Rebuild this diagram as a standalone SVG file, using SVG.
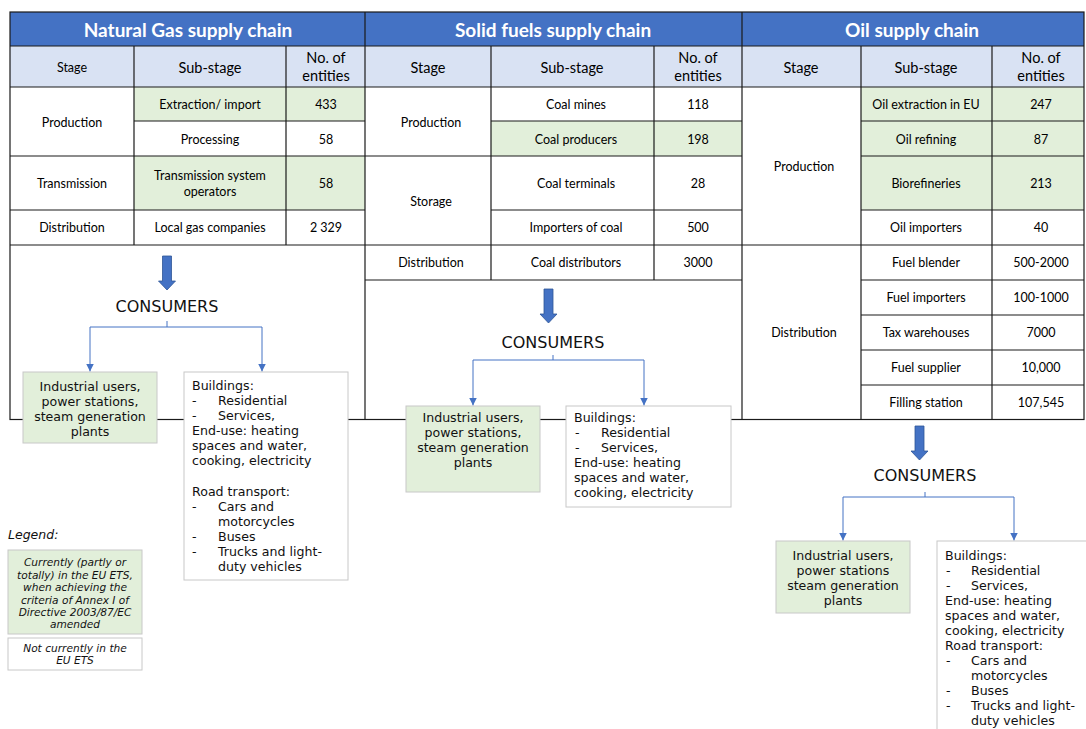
<svg xmlns="http://www.w3.org/2000/svg" width="1086" height="729" viewBox="0 0 1086 729">
<style>
.hdr{fill:#4472C4}
.sub{fill:#D9E2F3}
.grn{fill:#E2EFDA}
.wht{fill:#FFFFFF}
.grid{stroke:#1a1a1a;stroke-width:1.2;fill:none}
.ttl{font-family:Lato,"Liberation Sans",sans-serif;font-weight:bold;font-size:19px;fill:#FFFFFF;text-anchor:middle}
.th{font-family:Lato,"Liberation Sans",sans-serif;font-size:14.5px;fill:#000;text-anchor:middle}
.ths{font-family:Lato,"Liberation Sans",sans-serif;font-size:12.5px;fill:#000;text-anchor:middle}
.td{font-family:Lato,"Liberation Sans",sans-serif;font-size:12.5px;fill:#000;text-anchor:middle}
.box{stroke:#C8C8C8;stroke-width:1}
.cons{font-family:"DejaVu Sans",Verdana,sans-serif;font-size:16px;fill:#111;text-anchor:middle}
.bt{font-family:"DejaVu Sans",Verdana,sans-serif;font-size:12.6px;fill:#111}
.btc{font-family:"DejaVu Sans",Verdana,sans-serif;font-size:12.6px;fill:#111;text-anchor:middle}
.leg{font-family:"DejaVu Sans",Verdana,sans-serif;font-size:10.6px;font-style:italic;fill:#111;text-anchor:middle}
.legt{font-family:"DejaVu Sans",Verdana,sans-serif;font-size:12.5px;font-style:italic;fill:#111}
.conn{stroke:#4472C4;stroke-width:1;fill:none}
.blk{fill:#4472C4;stroke:#2F5597;stroke-width:0.8}
</style>
<defs>
<marker id="ah" viewBox="0 0 10 10" refX="10" refY="5" markerWidth="8" markerHeight="8" markerUnits="userSpaceOnUse" orient="auto">
<path d="M0,0 L10,5 L0,10 z" fill="#4472C4"/>
</marker>
</defs>
<rect width="1086" height="729" fill="#FFFFFF"/>

<g id="fills">
<rect class="hdr" x="10" y="12" width="1074" height="34"/>
<rect class="sub" x="10" y="46" width="1074" height="41"/>
<rect class="grn" x="134" y="87" width="231" height="34"/>
<rect class="grn" x="134" y="156" width="231" height="54"/>
<rect class="grn" x="491" y="121" width="251" height="35"/>
<rect class="grn" x="861" y="87" width="223" height="123"/>
</g>

<g id="grid" class="grid">
<rect x="10" y="12" width="1074" height="407.5"/>
<line x1="365" y1="12" x2="365" y2="419.5"/>
<line x1="742" y1="12" x2="742" y2="419.5"/>
<line x1="10" y1="46" x2="1084" y2="46"/>
<line x1="10" y1="87" x2="1084" y2="87"/>
<line x1="134" y1="46" x2="134" y2="245"/>
<line x1="286" y1="46" x2="286" y2="245"/>
<line x1="134" y1="121" x2="365" y2="121"/>
<line x1="10" y1="156" x2="365" y2="156"/>
<line x1="10" y1="210" x2="365" y2="210"/>
<line x1="10" y1="245" x2="365" y2="245"/>
<line x1="491" y1="46" x2="491" y2="280"/>
<line x1="654" y1="46" x2="654" y2="280"/>
<line x1="491" y1="121" x2="742" y2="121"/>
<line x1="365" y1="156" x2="742" y2="156"/>
<line x1="491" y1="210" x2="742" y2="210"/>
<line x1="365" y1="245" x2="742" y2="245"/>
<line x1="365" y1="280" x2="742" y2="280"/>
<line x1="861" y1="46" x2="861" y2="419.5"/>
<line x1="992" y1="46" x2="992" y2="419.5"/>
<line x1="861" y1="121" x2="1084" y2="121"/>
<line x1="861" y1="156" x2="1084" y2="156"/>
<line x1="861" y1="210" x2="1084" y2="210"/>
<line x1="742" y1="245" x2="1084" y2="245"/>
<line x1="861" y1="280" x2="1084" y2="280"/>
<line x1="861" y1="315" x2="1084" y2="315"/>
<line x1="861" y1="350" x2="1084" y2="350"/>
<line x1="861" y1="385" x2="1084" y2="385"/>
</g>

<g id="gas-table">
<text class="ttl" x="188" y="37">Natural Gas supply chain</text>
<text class="ths" x="72" y="72">Stage</text>
<text class="th" x="210" y="73">Sub-stage</text>
<text class="th" x="326" y="63">No. of</text>
<text class="th" x="326" y="81">entities</text>
<text class="td" x="72" y="127">Production</text>
<text class="td" x="210" y="109">Extraction/ import</text>
<text class="td" x="326" y="109">433</text>
<text class="td" x="210" y="144">Processing</text>
<text class="td" x="326" y="144">58</text>
<text class="td" x="72" y="188">Transmission</text>
<text class="td" x="210" y="180">Transmission system</text>
<text class="td" x="210" y="196">operators</text>
<text class="td" x="326" y="188">58</text>
<text class="td" x="72" y="232">Distribution</text>
<text class="td" x="210" y="232">Local gas companies</text>
<text class="td" x="326" y="232">2 329</text>
</g>

<g id="solid-table">
<text class="ttl" x="553" y="37">Solid fuels supply chain</text>
<text class="th" x="428" y="73">Stage</text>
<text class="th" x="572" y="73">Sub-stage</text>
<text class="th" x="698" y="63">No. of</text>
<text class="th" x="698" y="81">entities</text>
<text class="td" x="431" y="127">Production</text>
<text class="td" x="576" y="109">Coal mines</text>
<text class="td" x="698" y="109">118</text>
<text class="td" x="576" y="144">Coal producers</text>
<text class="td" x="698" y="144">198</text>
<text class="td" x="431" y="206">Storage</text>
<text class="td" x="576" y="188">Coal terminals</text>
<text class="td" x="698" y="188">28</text>
<text class="td" x="576" y="232">Importers of coal</text>
<text class="td" x="698" y="232">500</text>
<text class="td" x="431" y="267">Distribution</text>
<text class="td" x="576" y="267">Coal distributors</text>
<text class="td" x="698" y="267">3000</text>
</g>

<g id="oil-table">
<text class="ttl" x="912" y="37">Oil supply chain</text>
<text class="th" x="801" y="73">Stage</text>
<text class="th" x="926" y="73">Sub-stage</text>
<text class="th" x="1041" y="63">No. of</text>
<text class="th" x="1041" y="81">entities</text>
<text class="td" x="804" y="171">Production</text>
<text class="td" x="926" y="109">Oil extraction in EU</text>
<text class="td" x="1041" y="109">247</text>
<text class="td" x="926" y="144">Oil refining</text>
<text class="td" x="1041" y="144">87</text>
<text class="td" x="926" y="188">Biorefineries</text>
<text class="td" x="1041" y="188">213</text>
<text class="td" x="926" y="232">Oil importers</text>
<text class="td" x="1041" y="232">40</text>
<text class="td" x="804" y="337">Distribution</text>
<text class="td" x="926" y="267">Fuel blender</text>
<text class="td" x="1041" y="267">500-2000</text>
<text class="td" x="926" y="302">Fuel importers</text>
<text class="td" x="1041" y="302">100-1000</text>
<text class="td" x="926" y="337">Tax warehouses</text>
<text class="td" x="1041" y="337">7000</text>
<text class="td" x="926" y="372">Fuel supplier</text>
<text class="td" x="1041" y="372">10,000</text>
<text class="td" x="926" y="407">Filling station</text>
<text class="td" x="1041" y="407">107,545</text>
</g>

<g id="block-arrows">
<polygon class="blk" points="162.5,256 171.5,256 171.5,281 175.5,281 167,290 158.5,281 162.5,281"/>
<polygon class="blk" points="544,289 553,289 553,314 557,314 548.5,323 540,314 544,314"/>
<polygon class="blk" points="915,426 924,426 924,451 928,451 919.5,460 911,451 915,451"/>
</g>

<g id="connectors">
<path class="conn" d="M167,321 V327 M90,327 H262"/>
<path class="conn" d="M90,327 V371.5" marker-end="url(#ah)"/>
<path class="conn" d="M262,327 V371.5" marker-end="url(#ah)"/>
<path class="conn" d="M553,355 V360 M473,360 H644"/>
<path class="conn" d="M473,360 V405.5" marker-end="url(#ah)"/>
<path class="conn" d="M644,360 V405.5" marker-end="url(#ah)"/>
<path class="conn" d="M925,492 V497 M843,497 H1014"/>
<path class="conn" d="M843,497 V540.5" marker-end="url(#ah)"/>
<path class="conn" d="M1014,497 V540.5" marker-end="url(#ah)"/>
</g>

<g id="gas-consumers">
<text class="cons" x="167" y="312">CONSUMERS</text>
</g>
<g id="gas-industrial">
<rect class="grn box" x="23" y="372" width="134" height="71"/>
<text class="btc" x="90" y="391">Industrial users,</text>
<text class="btc" x="90" y="406">power stations,</text>
<text class="btc" x="90" y="421">steam generation</text>
<text class="btc" x="90" y="436">plants</text>
</g>
<g id="gas-buildings">
<rect class="wht box" x="184" y="372" width="164" height="208"/>
<text class="bt" x="192" y="390">Buildings:</text>
<text class="bt" x="192" y="405">-</text><text class="bt" x="218" y="405">Residential</text>
<text class="bt" x="192" y="420">-</text><text class="bt" x="218" y="420">Services,</text>
<text class="bt" x="192" y="435">End-use: heating</text>
<text class="bt" x="192" y="450">spaces and water,</text>
<text class="bt" x="192" y="465">cooking, electricity</text>
<text class="bt" x="192" y="496">Road transport:</text>
<text class="bt" x="192" y="511">-</text><text class="bt" x="218" y="511">Cars and</text>
<text class="bt" x="218" y="526">motorcycles</text>
<text class="bt" x="192" y="541">-</text><text class="bt" x="218" y="541">Buses</text>
<text class="bt" x="192" y="556">-</text><text class="bt" x="218" y="556">Trucks and light-</text>
<text class="bt" x="218" y="571">duty vehicles</text>
</g>

<g id="solid-consumers">
<text class="cons" x="553" y="348">CONSUMERS</text>
</g>
<g id="solid-industrial">
<rect class="grn box" x="406" y="406" width="134" height="86"/>
<text class="btc" x="473" y="422">Industrial users,</text>
<text class="btc" x="473" y="437">power stations,</text>
<text class="btc" x="473" y="452">steam generation</text>
<text class="btc" x="473" y="467">plants</text>
</g>
<g id="solid-buildings">
<rect class="wht box" x="566" y="406" width="165" height="101"/>
<text class="bt" x="574" y="422">Buildings:</text>
<text class="bt" x="575" y="437">-</text><text class="bt" x="601" y="437">Residential</text>
<text class="bt" x="575" y="452">-</text><text class="bt" x="601" y="452">Services,</text>
<text class="bt" x="574" y="467">End-use: heating</text>
<text class="bt" x="574" y="482">spaces and water,</text>
<text class="bt" x="574" y="497">cooking, electricity</text>
</g>

<g id="oil-consumers">
<text class="cons" x="925" y="481">CONSUMERS</text>
</g>
<g id="oil-industrial">
<rect class="grn box" x="776" y="541" width="134" height="72"/>
<text class="btc" x="843" y="560">Industrial users,</text>
<text class="btc" x="843" y="575">power stations</text>
<text class="btc" x="843" y="590">steam generation</text>
<text class="btc" x="843" y="605">plants</text>
</g>
<g id="oil-buildings">
<rect class="wht box" x="937" y="541" width="160" height="200"/>
<text class="bt" x="945" y="560">Buildings:</text>
<text class="bt" x="946" y="575">-</text><text class="bt" x="971" y="575">Residential</text>
<text class="bt" x="946" y="590">-</text><text class="bt" x="971" y="590">Services,</text>
<text class="bt" x="945" y="605">End-use: heating</text>
<text class="bt" x="945" y="620">spaces and water,</text>
<text class="bt" x="945" y="635">cooking, electricity</text>
<text class="bt" x="945" y="650">Road transport:</text>
<text class="bt" x="946" y="665">-</text><text class="bt" x="971" y="665">Cars and</text>
<text class="bt" x="971" y="680">motorcycles</text>
<text class="bt" x="946" y="695">-</text><text class="bt" x="971" y="695">Buses</text>
<text class="bt" x="946" y="710">-</text><text class="bt" x="971" y="710">Trucks and light-</text>
<text class="bt" x="971" y="725">duty vehicles</text>
</g>

<g id="legend">
<text class="legt" x="8" y="539">Legend:</text>
</g>
<g id="legend-green">
<rect class="grn box" x="8" y="550" width="134" height="84"/>
<text class="leg" x="75" y="566">Currently (partly or</text>
<text class="leg" x="75" y="579">totally) in the EU ETS,</text>
<text class="leg" x="75" y="591">when achieving the</text>
<text class="leg" x="75" y="604">criteria of Annex I of</text>
<text class="leg" x="75" y="616">Directive 2003/87/EC</text>
<text class="leg" x="75" y="628">amended</text>
</g>
<g id="legend-white">
<rect class="wht box" x="8" y="638" width="134" height="32"/>
<text class="leg" x="75" y="652">Not currently in the</text>
<text class="leg" x="75" y="664">EU ETS</text>
</g>
</svg>
